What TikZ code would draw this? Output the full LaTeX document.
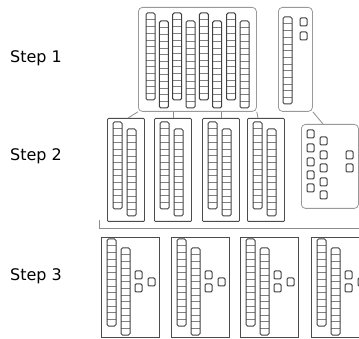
\documentclass[tikz,border=0pt]{standalone}
\usepackage{fontspec}
\setmainfont{DejaVu Sans}
\usetikzlibrary{positioning}

\begin{document}
\begin{tikzpicture}[
		x=1pt, y=-1pt,
		group/.style={draw=black!40, line width=0.8pt, rounded corners=4pt, inner sep=0pt, anchor=north west},
		block/.style={draw=black!70, line width=0.9pt, rounded corners=1pt, inner sep=0pt, anchor=north west},
		link/.style={draw=black!45, line width=0.8pt},
		steplabel/.style={anchor=west, inner sep=0pt, font=\fontsize{16}{19}\selectfont},
		strip/.pic={
			\foreach \k in {1,...,12} \draw[black!50, line width=0.5pt] (0,\k*6.7) -- (9,\k*6.7);
			\draw[black!75, line width=1pt, rounded corners=1.5pt] (0,0) rectangle (9,87);
		},
		cell/.pic={\draw[black!75, line width=1pt, rounded corners=1.2pt] (0,0) rectangle (7,8);},
	]
		\useasboundingbox (0,0) rectangle (359,339);

		\node[steplabel] (l1) at (10,58) {Step 1};
		\node[steplabel] (l2) at (10,156) {Step 2};
		\node[steplabel] (l3) at (10,276) {Step 3};

		% step 1
		\node[group, minimum width=118pt, minimum height=104pt] (s1a) at (138,7) {};
		\node[group, minimum width=34pt, minimum height=104pt] (s1b) at (278,7) {};
		\foreach \x in {146,172.7,199.3,226.7} {
			\pic at (\x,13) {strip};
			\pic at (\x+13.3,21) {strip};
		}
		\pic at (283,17) {strip};
		\pic at (300,18) {cell};
		\pic at (300,32) {cell};

		% step 2
		\foreach \x [count=\i] in {107,154,202,247} {
			\node[block, minimum width=37pt, minimum height=103pt] (t\i) at (\x,118) {};
			\pic at (\x+6,122) {strip};
			\pic at (\x+20,129) {strip};
		}
		\node[group, minimum width=57pt, minimum height=84pt] (s2e) at (301,124) {};
		\foreach \y in {130,144,158,171,184} \pic at (307,\y) {cell};
		\foreach \y in {137,151,164,178,191} \pic at (320,\y) {cell};
		\pic at (346,151) {cell};
		\pic at (346,164) {cell};

		\draw[link] (s1a.south west) -- ([xshift=21pt]t1.north west);
		\draw[link] (t2.north) -- (t2.north |- s1a.south);
		\draw[link] (t3.north) -- (t3.north |- s1a.south);
		\draw[link] (s1a.south east) -- ([xshift=11pt]t4.north west);
		\draw[link] (s1b.south east) -- ([xshift=22pt]s2e.north west);

		\draw[link] (99,220) -- (99,228) -- (359,228);

		% step 3
		\foreach \x [count=\i] in {101,171,240,311} {
			\node[block, rounded corners=0pt, minimum width=58pt, minimum height=100pt] (u\i) at (\x,237) {};
			\pic at (\x+6,239) {strip};
			\pic at (\x+20,248) {strip};
			\pic at (\x+34,271) {cell};
			\pic at (\x+34,284) {cell};
			\pic at (\x+47,278) {cell};
		}
	\end{tikzpicture}
\end{document}
